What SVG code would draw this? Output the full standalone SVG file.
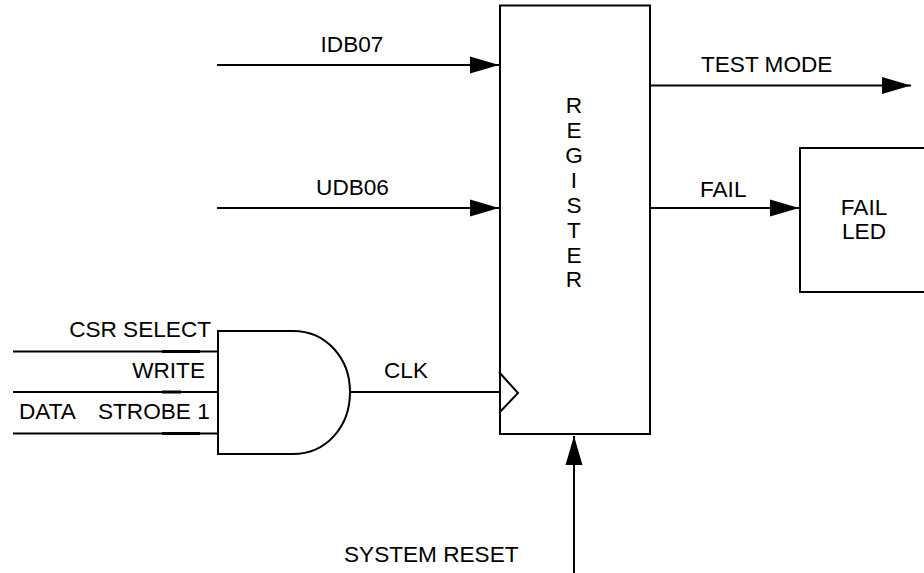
<svg xmlns="http://www.w3.org/2000/svg" width="924" height="573" viewBox="0 0 924 573">
<style>
text{font-family:"Liberation Sans",Arial,sans-serif;font-size:22.6px;fill:#000}
.l{fill:none;stroke:#000;stroke-width:2}
.t{fill:none;stroke:#000;stroke-width:3}
.s{fill:#fff;stroke:#000;stroke-width:2}
.m{text-anchor:middle}
.e{text-anchor:end}
</style>
<defs><marker id="a" markerUnits="userSpaceOnUse" markerWidth="29" markerHeight="18" refX="29" refY="9" orient="auto"><path d="M0 0.5L29 9L0 17.5Z" fill="#000"/></marker></defs>
<g id="connectors">
<path class="l" d="M217 65H499" marker-end="url(#a)"/>
<path class="l" d="M217 208H499" marker-end="url(#a)"/>
<path class="l" d="M649 85.500H911" marker-end="url(#a)"/>
<path class="l" d="M649 208H799" marker-end="url(#a)"/>
<path class="l" d="M574 573V436" marker-end="url(#a)"/>
<path class="l" d="M351 392H500"/>
<path class="l" d="M13 351.500H218M13 392H218M13 433.500H218"/>
<path class="t" d="M162 351.500H200M162 392H181M162 433.500H200"/>
</g>
<g id="register"><rect class="s" x="500" y="5.500" width="150" height="428.500"/>
<path class="l" d="M499 372L518 393L499 413"/>
<text class="m" x="574" y="113">R</text><text class="m" x="574" y="138">E</text><text class="m" x="574" y="163">G</text><text class="m" x="574" y="188">I</text><text class="m" x="574" y="213">S</text><text class="m" x="574" y="238">T</text><text class="m" x="574" y="263">E</text><text class="m" x="574" y="287">R</text></g>
<g id="fail-led"><rect class="s" x="800" y="148" width="125" height="144"/><text class="m" x="864" y="215">FAIL</text><text class="m" x="864" y="239">LED</text></g>
<g id="and-gate"><path class="s" d="M218 331H293C326 331 350 358 350 392C350 427 326 454 293 454H218Z"/></g>
<g id="labels">
<text class="m" x="352" y="52">IDB07</text>
<text class="m" x="352.500" y="195">UDB06</text>
<text x="701" y="72">TEST MODE</text>
<text x="700" y="197">FAIL</text>
<text x="384" y="378">CLK</text>
<text class="e" x="211" y="337">CSR SELECT</text>
<text class="e" x="205" y="378">WRITE</text>
<text x="19" y="419">DATA</text><text x="98" y="419">STROBE 1</text>
<text x="344" y="562">SYSTEM RESET</text>
</g>
</svg>
